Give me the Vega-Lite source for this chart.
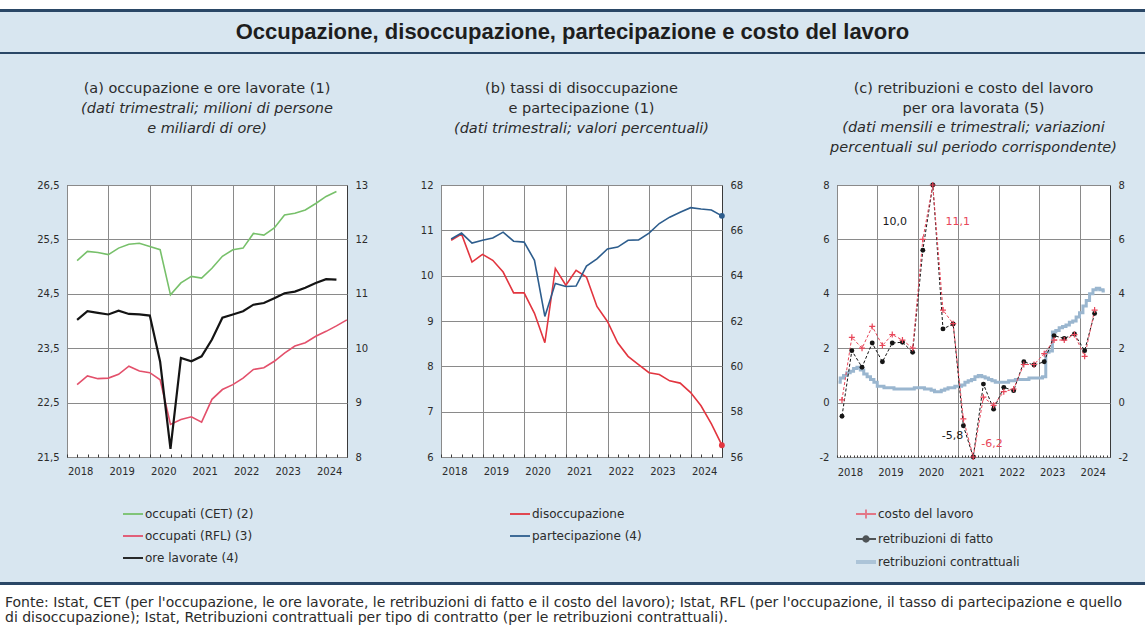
{
  "$schema": "https://vega.github.io/schema/vega-lite/v6.json",
  "background": "#d8e6f0",
  "padding": 0,
  "spacing": 0,
  "bounds": "flush",
  "config": {
    "locale": {"number": {"decimal": ",", "thousands": ".", "grouping": [3], "currency": ["€", ""], "minus": "-"}},
    "view": {"stroke": null},
    "font": "DejaVu Sans",
    "axis": {"labelFont": "DejaVu Sans", "labelFontSize": 10, "labelColor": "#2b2b2b", "domain": false, "ticks": false, "gridColor": "#8a8a8a", "gridWidth": 1},
    "legend": {"labelFont": "DejaVu Sans", "labelFontSize": 12, "labelColor": "#2b2b2b", "symbolSize": 400, "symbolStrokeWidth": 1.8, "labelOffset": 1, "rowPadding": 5},
    "title": {"font": "DejaVu Sans", "fontSize": 14.5, "fontWeight": "normal", "color": "#2b2b2b", "subtitleFont": "DejaVu Sans", "subtitleFontSize": 14.5, "subtitleFontStyle": "italic", "subtitleColor": "#2b2b2b", "lineHeight": 20, "subtitleLineHeight": 20, "subtitlePadding": 5, "offset": 24, "anchor": "middle", "frame": "group"}
  },
  "datasets": {
    "pannello_a": [
      {"periodo": "2018-03-31", "serie": "occupati (CET) (2)", "valore": 25.11},
      {"periodo": "2018-06-30", "serie": "occupati (CET) (2)", "valore": 25.28},
      {"periodo": "2018-09-30", "serie": "occupati (CET) (2)", "valore": 25.26},
      {"periodo": "2018-12-31", "serie": "occupati (CET) (2)", "valore": 25.22},
      {"periodo": "2019-03-31", "serie": "occupati (CET) (2)", "valore": 25.34},
      {"periodo": "2019-06-30", "serie": "occupati (CET) (2)", "valore": 25.41},
      {"periodo": "2019-09-30", "serie": "occupati (CET) (2)", "valore": 25.43},
      {"periodo": "2019-12-31", "serie": "occupati (CET) (2)", "valore": 25.37},
      {"periodo": "2020-03-31", "serie": "occupati (CET) (2)", "valore": 25.31},
      {"periodo": "2020-06-30", "serie": "occupati (CET) (2)", "valore": 24.48},
      {"periodo": "2020-09-30", "serie": "occupati (CET) (2)", "valore": 24.70},
      {"periodo": "2020-12-31", "serie": "occupati (CET) (2)", "valore": 24.82},
      {"periodo": "2021-03-31", "serie": "occupati (CET) (2)", "valore": 24.79},
      {"periodo": "2021-06-30", "serie": "occupati (CET) (2)", "valore": 24.97},
      {"periodo": "2021-09-30", "serie": "occupati (CET) (2)", "valore": 25.19},
      {"periodo": "2021-12-31", "serie": "occupati (CET) (2)", "valore": 25.31},
      {"periodo": "2022-03-31", "serie": "occupati (CET) (2)", "valore": 25.34},
      {"periodo": "2022-06-30", "serie": "occupati (CET) (2)", "valore": 25.61},
      {"periodo": "2022-09-30", "serie": "occupati (CET) (2)", "valore": 25.58},
      {"periodo": "2022-12-31", "serie": "occupati (CET) (2)", "valore": 25.71},
      {"periodo": "2023-03-31", "serie": "occupati (CET) (2)", "valore": 25.95},
      {"periodo": "2023-06-30", "serie": "occupati (CET) (2)", "valore": 25.98},
      {"periodo": "2023-09-30", "serie": "occupati (CET) (2)", "valore": 26.04},
      {"periodo": "2023-12-31", "serie": "occupati (CET) (2)", "valore": 26.16},
      {"periodo": "2024-03-31", "serie": "occupati (CET) (2)", "valore": 26.29},
      {"periodo": "2024-06-30", "serie": "occupati (CET) (2)", "valore": 26.38},
      {"periodo": "2018-03-31", "serie": "occupati (RFL) (3)", "valore": 22.83},
      {"periodo": "2018-06-30", "serie": "occupati (RFL) (3)", "valore": 22.99},
      {"periodo": "2018-09-30", "serie": "occupati (RFL) (3)", "valore": 22.94},
      {"periodo": "2018-12-31", "serie": "occupati (RFL) (3)", "valore": 22.95},
      {"periodo": "2019-03-31", "serie": "occupati (RFL) (3)", "valore": 23.02},
      {"periodo": "2019-06-30", "serie": "occupati (RFL) (3)", "valore": 23.17},
      {"periodo": "2019-09-30", "serie": "occupati (RFL) (3)", "valore": 23.08},
      {"periodo": "2019-12-31", "serie": "occupati (RFL) (3)", "valore": 23.05},
      {"periodo": "2020-03-31", "serie": "occupati (RFL) (3)", "valore": 22.92},
      {"periodo": "2020-06-30", "serie": "occupati (RFL) (3)", "valore": 22.10},
      {"periodo": "2020-09-30", "serie": "occupati (RFL) (3)", "valore": 22.19},
      {"periodo": "2020-12-31", "serie": "occupati (RFL) (3)", "valore": 22.24},
      {"periodo": "2021-03-31", "serie": "occupati (RFL) (3)", "valore": 22.14},
      {"periodo": "2021-06-30", "serie": "occupati (RFL) (3)", "valore": 22.56},
      {"periodo": "2021-09-30", "serie": "occupati (RFL) (3)", "valore": 22.74},
      {"periodo": "2021-12-31", "serie": "occupati (RFL) (3)", "valore": 22.83},
      {"periodo": "2022-03-31", "serie": "occupati (RFL) (3)", "valore": 22.95},
      {"periodo": "2022-06-30", "serie": "occupati (RFL) (3)", "valore": 23.11},
      {"periodo": "2022-09-30", "serie": "occupati (RFL) (3)", "valore": 23.14},
      {"periodo": "2022-12-31", "serie": "occupati (RFL) (3)", "valore": 23.26},
      {"periodo": "2023-03-31", "serie": "occupati (RFL) (3)", "valore": 23.41},
      {"periodo": "2023-06-30", "serie": "occupati (RFL) (3)", "valore": 23.54},
      {"periodo": "2023-09-30", "serie": "occupati (RFL) (3)", "valore": 23.60},
      {"periodo": "2023-12-31", "serie": "occupati (RFL) (3)", "valore": 23.72},
      {"periodo": "2024-03-31", "serie": "occupati (RFL) (3)", "valore": 23.81},
      {"periodo": "2024-06-30", "serie": "occupati (RFL) (3)", "valore": 23.91},
      {"periodo": "2024-09-30", "serie": "occupati (RFL) (3)", "valore": 24.02},
      {"periodo": "2018-03-31", "serie": "ore lavorate (4)", "valore": 10.52},
      {"periodo": "2018-06-30", "serie": "ore lavorate (4)", "valore": 10.68},
      {"periodo": "2018-09-30", "serie": "ore lavorate (4)", "valore": 10.65},
      {"periodo": "2018-12-31", "serie": "ore lavorate (4)", "valore": 10.62},
      {"periodo": "2019-03-31", "serie": "ore lavorate (4)", "valore": 10.69},
      {"periodo": "2019-06-30", "serie": "ore lavorate (4)", "valore": 10.63},
      {"periodo": "2019-09-30", "serie": "ore lavorate (4)", "valore": 10.62},
      {"periodo": "2019-12-31", "serie": "ore lavorate (4)", "valore": 10.60},
      {"periodo": "2020-03-31", "serie": "ore lavorate (4)", "valore": 9.75},
      {"periodo": "2020-06-30", "serie": "ore lavorate (4)", "valore": 8.15},
      {"periodo": "2020-09-30", "serie": "ore lavorate (4)", "valore": 9.82},
      {"periodo": "2020-12-31", "serie": "ore lavorate (4)", "valore": 9.76},
      {"periodo": "2021-03-31", "serie": "ore lavorate (4)", "valore": 9.85},
      {"periodo": "2021-06-30", "serie": "ore lavorate (4)", "valore": 10.16},
      {"periodo": "2021-09-30", "serie": "ore lavorate (4)", "valore": 10.56},
      {"periodo": "2021-12-31", "serie": "ore lavorate (4)", "valore": 10.62},
      {"periodo": "2022-03-31", "serie": "ore lavorate (4)", "valore": 10.68},
      {"periodo": "2022-06-30", "serie": "ore lavorate (4)", "valore": 10.80},
      {"periodo": "2022-09-30", "serie": "ore lavorate (4)", "valore": 10.83},
      {"periodo": "2022-12-31", "serie": "ore lavorate (4)", "valore": 10.92},
      {"periodo": "2023-03-31", "serie": "ore lavorate (4)", "valore": 11.01},
      {"periodo": "2023-06-30", "serie": "ore lavorate (4)", "valore": 11.04},
      {"periodo": "2023-09-30", "serie": "ore lavorate (4)", "valore": 11.11},
      {"periodo": "2023-12-31", "serie": "ore lavorate (4)", "valore": 11.20},
      {"periodo": "2024-03-31", "serie": "ore lavorate (4)", "valore": 11.27},
      {"periodo": "2024-06-30", "serie": "ore lavorate (4)", "valore": 11.26}
    ],
    "pannello_b": [
      {"periodo": "2018-03-31", "serie": "disoccupazione", "valore": 10.78},
      {"periodo": "2018-06-30", "serie": "disoccupazione", "valore": 10.92},
      {"periodo": "2018-09-30", "serie": "disoccupazione", "valore": 10.30},
      {"periodo": "2018-12-31", "serie": "disoccupazione", "valore": 10.47},
      {"periodo": "2019-03-31", "serie": "disoccupazione", "valore": 10.34},
      {"periodo": "2019-06-30", "serie": "disoccupazione", "valore": 10.08},
      {"periodo": "2019-09-30", "serie": "disoccupazione", "valore": 9.62},
      {"periodo": "2019-12-31", "serie": "disoccupazione", "valore": 9.62},
      {"periodo": "2020-03-31", "serie": "disoccupazione", "valore": 9.17},
      {"periodo": "2020-06-30", "serie": "disoccupazione", "valore": 8.52},
      {"periodo": "2020-09-30", "serie": "disoccupazione", "valore": 10.16},
      {"periodo": "2020-12-31", "serie": "disoccupazione", "valore": 9.79},
      {"periodo": "2021-03-31", "serie": "disoccupazione", "valore": 10.12},
      {"periodo": "2021-06-30", "serie": "disoccupazione", "valore": 9.97},
      {"periodo": "2021-09-30", "serie": "disoccupazione", "valore": 9.32},
      {"periodo": "2021-12-31", "serie": "disoccupazione", "valore": 8.99},
      {"periodo": "2022-03-31", "serie": "disoccupazione", "valore": 8.52},
      {"periodo": "2022-06-30", "serie": "disoccupazione", "valore": 8.22},
      {"periodo": "2022-09-30", "serie": "disoccupazione", "valore": 8.04},
      {"periodo": "2022-12-31", "serie": "disoccupazione", "valore": 7.86},
      {"periodo": "2023-03-31", "serie": "disoccupazione", "valore": 7.82},
      {"periodo": "2023-06-30", "serie": "disoccupazione", "valore": 7.68},
      {"periodo": "2023-09-30", "serie": "disoccupazione", "valore": 7.63},
      {"periodo": "2023-12-31", "serie": "disoccupazione", "valore": 7.42},
      {"periodo": "2024-03-31", "serie": "disoccupazione", "valore": 7.13},
      {"periodo": "2024-06-30", "serie": "disoccupazione", "valore": 6.73},
      {"periodo": "2024-09-30", "serie": "disoccupazione", "valore": 6.26},
      {"periodo": "2018-03-31", "serie": "partecipazione (4)", "valore": 65.62},
      {"periodo": "2018-06-30", "serie": "partecipazione (4)", "valore": 65.88},
      {"periodo": "2018-09-30", "serie": "partecipazione (4)", "valore": 65.44},
      {"periodo": "2018-12-31", "serie": "partecipazione (4)", "valore": 65.56},
      {"periodo": "2019-03-31", "serie": "partecipazione (4)", "valore": 65.66},
      {"periodo": "2019-06-30", "serie": "partecipazione (4)", "valore": 65.92},
      {"periodo": "2019-09-30", "serie": "partecipazione (4)", "valore": 65.52},
      {"periodo": "2019-12-31", "serie": "partecipazione (4)", "valore": 65.48},
      {"periodo": "2020-03-31", "serie": "partecipazione (4)", "valore": 64.68},
      {"periodo": "2020-06-30", "serie": "partecipazione (4)", "valore": 62.20},
      {"periodo": "2020-09-30", "serie": "partecipazione (4)", "valore": 63.66},
      {"periodo": "2020-12-31", "serie": "partecipazione (4)", "valore": 63.52},
      {"periodo": "2021-03-31", "serie": "partecipazione (4)", "valore": 63.54},
      {"periodo": "2021-06-30", "serie": "partecipazione (4)", "valore": 64.42},
      {"periodo": "2021-09-30", "serie": "partecipazione (4)", "valore": 64.74},
      {"periodo": "2021-12-31", "serie": "partecipazione (4)", "valore": 65.18},
      {"periodo": "2022-03-31", "serie": "partecipazione (4)", "valore": 65.26},
      {"periodo": "2022-06-30", "serie": "partecipazione (4)", "valore": 65.56},
      {"periodo": "2022-09-30", "serie": "partecipazione (4)", "valore": 65.58},
      {"periodo": "2022-12-31", "serie": "partecipazione (4)", "valore": 65.88},
      {"periodo": "2023-03-31", "serie": "partecipazione (4)", "valore": 66.30},
      {"periodo": "2023-06-30", "serie": "partecipazione (4)", "valore": 66.58},
      {"periodo": "2023-09-30", "serie": "partecipazione (4)", "valore": 66.80},
      {"periodo": "2023-12-31", "serie": "partecipazione (4)", "valore": 67.00},
      {"periodo": "2024-03-31", "serie": "partecipazione (4)", "valore": 66.94},
      {"periodo": "2024-06-30", "serie": "partecipazione (4)", "valore": 66.90},
      {"periodo": "2024-09-30", "serie": "partecipazione (4)", "valore": 66.64}
    ],
    "pannello_c_trimestrale": [
      {"periodo": "2018-02-15", "serie": "retribuzioni di fatto", "valore": -0.50},
      {"periodo": "2018-05-15", "serie": "retribuzioni di fatto", "valore": 1.91},
      {"periodo": "2018-08-15", "serie": "retribuzioni di fatto", "valore": 1.30},
      {"periodo": "2018-11-15", "serie": "retribuzioni di fatto", "valore": 2.19},
      {"periodo": "2019-02-15", "serie": "retribuzioni di fatto", "valore": 1.50},
      {"periodo": "2019-05-15", "serie": "retribuzioni di fatto", "valore": 2.19},
      {"periodo": "2019-08-15", "serie": "retribuzioni di fatto", "valore": 2.22},
      {"periodo": "2019-11-15", "serie": "retribuzioni di fatto", "valore": 1.85},
      {"periodo": "2020-02-15", "serie": "retribuzioni di fatto", "valore": 5.6},
      {"periodo": "2020-05-15", "serie": "retribuzioni di fatto", "valore": 10.0},
      {"periodo": "2020-08-15", "serie": "retribuzioni di fatto", "valore": 2.71},
      {"periodo": "2020-11-15", "serie": "retribuzioni di fatto", "valore": 2.89},
      {"periodo": "2021-02-15", "serie": "retribuzioni di fatto", "valore": -0.85},
      {"periodo": "2021-05-15", "serie": "retribuzioni di fatto", "valore": -5.8},
      {"periodo": "2021-08-15", "serie": "retribuzioni di fatto", "valore": 0.68},
      {"periodo": "2021-11-15", "serie": "retribuzioni di fatto", "valore": -0.24},
      {"periodo": "2022-02-15", "serie": "retribuzioni di fatto", "valore": 0.56},
      {"periodo": "2022-05-15", "serie": "retribuzioni di fatto", "valore": 0.44},
      {"periodo": "2022-08-15", "serie": "retribuzioni di fatto", "valore": 1.50},
      {"periodo": "2022-11-15", "serie": "retribuzioni di fatto", "valore": 1.38},
      {"periodo": "2023-02-15", "serie": "retribuzioni di fatto", "valore": 1.50},
      {"periodo": "2023-05-15", "serie": "retribuzioni di fatto", "valore": 2.46},
      {"periodo": "2023-08-15", "serie": "retribuzioni di fatto", "valore": 2.36},
      {"periodo": "2023-11-15", "serie": "retribuzioni di fatto", "valore": 2.52},
      {"periodo": "2024-02-15", "serie": "retribuzioni di fatto", "valore": 1.91},
      {"periodo": "2024-05-15", "serie": "retribuzioni di fatto", "valore": 3.28},
      {"periodo": "2018-02-15", "serie": "costo del lavoro", "valore": 0.1},
      {"periodo": "2018-05-15", "serie": "costo del lavoro", "valore": 2.4},
      {"periodo": "2018-08-15", "serie": "costo del lavoro", "valore": 2.0},
      {"periodo": "2018-11-15", "serie": "costo del lavoro", "valore": 2.8},
      {"periodo": "2019-02-15", "serie": "costo del lavoro", "valore": 2.1},
      {"periodo": "2019-05-15", "serie": "costo del lavoro", "valore": 2.5},
      {"periodo": "2019-08-15", "serie": "costo del lavoro", "valore": 2.3},
      {"periodo": "2019-11-15", "serie": "costo del lavoro", "valore": 2.0},
      {"periodo": "2020-02-15", "serie": "costo del lavoro", "valore": 6.0},
      {"periodo": "2020-05-15", "serie": "costo del lavoro", "valore": 11.1},
      {"periodo": "2020-08-15", "serie": "costo del lavoro", "valore": 3.4},
      {"periodo": "2020-11-15", "serie": "costo del lavoro", "valore": 2.9},
      {"periodo": "2021-02-15", "serie": "costo del lavoro", "valore": -0.6},
      {"periodo": "2021-05-15", "serie": "costo del lavoro", "valore": -6.2},
      {"periodo": "2021-08-15", "serie": "costo del lavoro", "valore": 0.2},
      {"periodo": "2021-11-15", "serie": "costo del lavoro", "valore": -0.1},
      {"periodo": "2022-02-15", "serie": "costo del lavoro", "valore": 0.4},
      {"periodo": "2022-05-15", "serie": "costo del lavoro", "valore": 0.5},
      {"periodo": "2022-08-15", "serie": "costo del lavoro", "valore": 1.4},
      {"periodo": "2022-11-15", "serie": "costo del lavoro", "valore": 1.4},
      {"periodo": "2023-02-15", "serie": "costo del lavoro", "valore": 1.8},
      {"periodo": "2023-05-15", "serie": "costo del lavoro", "valore": 2.3},
      {"periodo": "2023-08-15", "serie": "costo del lavoro", "valore": 2.3},
      {"periodo": "2023-11-15", "serie": "costo del lavoro", "valore": 2.5},
      {"periodo": "2024-02-15", "serie": "costo del lavoro", "valore": 1.7},
      {"periodo": "2024-05-15", "serie": "costo del lavoro", "valore": 3.4}
    ],
    "pannello_c_mensile": [
      {"periodo": "2018-01-15", "serie": "retribuzioni contrattuali", "valore": 0.75},
      {"periodo": "2018-02-15", "serie": "retribuzioni contrattuali", "valore": 0.9},
      {"periodo": "2018-03-15", "serie": "retribuzioni contrattuali", "valore": 1.0},
      {"periodo": "2018-04-15", "serie": "retribuzioni contrattuali", "valore": 1.1},
      {"periodo": "2018-05-15", "serie": "retribuzioni contrattuali", "valore": 1.15},
      {"periodo": "2018-06-15", "serie": "retribuzioni contrattuali", "valore": 1.25},
      {"periodo": "2018-07-15", "serie": "retribuzioni contrattuali", "valore": 1.3},
      {"periodo": "2018-08-15", "serie": "retribuzioni contrattuali", "valore": 1.2},
      {"periodo": "2018-09-15", "serie": "retribuzioni contrattuali", "valore": 1.05},
      {"periodo": "2018-10-15", "serie": "retribuzioni contrattuali", "valore": 0.95},
      {"periodo": "2018-11-15", "serie": "retribuzioni contrattuali", "valore": 0.85},
      {"periodo": "2018-12-15", "serie": "retribuzioni contrattuali", "valore": 0.75},
      {"periodo": "2019-01-15", "serie": "retribuzioni contrattuali", "valore": 0.6},
      {"periodo": "2019-02-15", "serie": "retribuzioni contrattuali", "valore": 0.6},
      {"periodo": "2019-03-15", "serie": "retribuzioni contrattuali", "valore": 0.55},
      {"periodo": "2019-04-15", "serie": "retribuzioni contrattuali", "valore": 0.55},
      {"periodo": "2019-05-15", "serie": "retribuzioni contrattuali", "valore": 0.55},
      {"periodo": "2019-06-15", "serie": "retribuzioni contrattuali", "valore": 0.5},
      {"periodo": "2019-07-15", "serie": "retribuzioni contrattuali", "valore": 0.5},
      {"periodo": "2019-08-15", "serie": "retribuzioni contrattuali", "valore": 0.5},
      {"periodo": "2019-09-15", "serie": "retribuzioni contrattuali", "valore": 0.5},
      {"periodo": "2019-10-15", "serie": "retribuzioni contrattuali", "valore": 0.5},
      {"periodo": "2019-11-15", "serie": "retribuzioni contrattuali", "valore": 0.5},
      {"periodo": "2019-12-15", "serie": "retribuzioni contrattuali", "valore": 0.55},
      {"periodo": "2020-01-15", "serie": "retribuzioni contrattuali", "valore": 0.55},
      {"periodo": "2020-02-15", "serie": "retribuzioni contrattuali", "valore": 0.55},
      {"periodo": "2020-03-15", "serie": "retribuzioni contrattuali", "valore": 0.5},
      {"periodo": "2020-04-15", "serie": "retribuzioni contrattuali", "valore": 0.5},
      {"periodo": "2020-05-15", "serie": "retribuzioni contrattuali", "valore": 0.45},
      {"periodo": "2020-06-15", "serie": "retribuzioni contrattuali", "valore": 0.4},
      {"periodo": "2020-07-15", "serie": "retribuzioni contrattuali", "valore": 0.4},
      {"periodo": "2020-08-15", "serie": "retribuzioni contrattuali", "valore": 0.45},
      {"periodo": "2020-09-15", "serie": "retribuzioni contrattuali", "valore": 0.5},
      {"periodo": "2020-10-15", "serie": "retribuzioni contrattuali", "valore": 0.55},
      {"periodo": "2020-11-15", "serie": "retribuzioni contrattuali", "valore": 0.55},
      {"periodo": "2020-12-15", "serie": "retribuzioni contrattuali", "valore": 0.6},
      {"periodo": "2021-01-15", "serie": "retribuzioni contrattuali", "valore": 0.6},
      {"periodo": "2021-02-15", "serie": "retribuzioni contrattuali", "valore": 0.65},
      {"periodo": "2021-03-15", "serie": "retribuzioni contrattuali", "valore": 0.75},
      {"periodo": "2021-04-15", "serie": "retribuzioni contrattuali", "valore": 0.8},
      {"periodo": "2021-05-15", "serie": "retribuzioni contrattuali", "valore": 0.85},
      {"periodo": "2021-06-15", "serie": "retribuzioni contrattuali", "valore": 0.95},
      {"periodo": "2021-07-15", "serie": "retribuzioni contrattuali", "valore": 1.0},
      {"periodo": "2021-08-15", "serie": "retribuzioni contrattuali", "valore": 0.95},
      {"periodo": "2021-09-15", "serie": "retribuzioni contrattuali", "valore": 0.9},
      {"periodo": "2021-10-15", "serie": "retribuzioni contrattuali", "valore": 0.85},
      {"periodo": "2021-11-15", "serie": "retribuzioni contrattuali", "valore": 0.8},
      {"periodo": "2021-12-15", "serie": "retribuzioni contrattuali", "valore": 0.75},
      {"periodo": "2022-01-15", "serie": "retribuzioni contrattuali", "valore": 0.75},
      {"periodo": "2022-02-15", "serie": "retribuzioni contrattuali", "valore": 0.75},
      {"periodo": "2022-03-15", "serie": "retribuzioni contrattuali", "valore": 0.75},
      {"periodo": "2022-04-15", "serie": "retribuzioni contrattuali", "valore": 0.8},
      {"periodo": "2022-05-15", "serie": "retribuzioni contrattuali", "valore": 0.8},
      {"periodo": "2022-06-15", "serie": "retribuzioni contrattuali", "valore": 0.85},
      {"periodo": "2022-07-15", "serie": "retribuzioni contrattuali", "valore": 0.85},
      {"periodo": "2022-08-15", "serie": "retribuzioni contrattuali", "valore": 0.85},
      {"periodo": "2022-09-15", "serie": "retribuzioni contrattuali", "valore": 0.85},
      {"periodo": "2022-10-15", "serie": "retribuzioni contrattuali", "valore": 0.9},
      {"periodo": "2022-11-15", "serie": "retribuzioni contrattuali", "valore": 0.9},
      {"periodo": "2022-12-15", "serie": "retribuzioni contrattuali", "valore": 0.9},
      {"periodo": "2023-01-15", "serie": "retribuzioni contrattuali", "valore": 0.9},
      {"periodo": "2023-02-15", "serie": "retribuzioni contrattuali", "valore": 0.95},
      {"periodo": "2023-03-15", "serie": "retribuzioni contrattuali", "valore": 1.85},
      {"periodo": "2023-04-15", "serie": "retribuzioni contrattuali", "valore": 1.9},
      {"periodo": "2023-05-15", "serie": "retribuzioni contrattuali", "valore": 2.6},
      {"periodo": "2023-06-15", "serie": "retribuzioni contrattuali", "valore": 2.65},
      {"periodo": "2023-07-15", "serie": "retribuzioni contrattuali", "valore": 2.75},
      {"periodo": "2023-08-15", "serie": "retribuzioni contrattuali", "valore": 2.8},
      {"periodo": "2023-09-15", "serie": "retribuzioni contrattuali", "valore": 2.85},
      {"periodo": "2023-10-15", "serie": "retribuzioni contrattuali", "valore": 2.95},
      {"periodo": "2023-11-15", "serie": "retribuzioni contrattuali", "valore": 3.0},
      {"periodo": "2023-12-15", "serie": "retribuzioni contrattuali", "valore": 3.15},
      {"periodo": "2024-01-15", "serie": "retribuzioni contrattuali", "valore": 3.3},
      {"periodo": "2024-02-15", "serie": "retribuzioni contrattuali", "valore": 3.55},
      {"periodo": "2024-03-15", "serie": "retribuzioni contrattuali", "valore": 3.75},
      {"periodo": "2024-04-15", "serie": "retribuzioni contrattuali", "valore": 4.0},
      {"periodo": "2024-05-15", "serie": "retribuzioni contrattuali", "valore": 4.15},
      {"periodo": "2024-06-15", "serie": "retribuzioni contrattuali", "valore": 4.2},
      {"periodo": "2024-07-15", "serie": "retribuzioni contrattuali", "valore": 4.15},
      {"periodo": "2024-08-15", "serie": "retribuzioni contrattuali", "valore": 4.1}
    ]
  },
  "resolve": {"scale": {"color": "independent", "shape": "independent"}, "legend": {"color": "independent", "shape": "independent"}},
  "vconcat": [
    {"width": 1145, "height": 9, "view": {"fill": "#ffffff", "stroke": null}, "data": {"values": []}, "mark": "point"},
    {"width": 1145, "height": 3, "view": {"fill": "#2a4766", "stroke": null}, "data": {"values": []}, "mark": "point"},
    {
      "width": 1145, "height": 40,
      "data": {"values": [{"titolo": "Occupazione, disoccupazione, partecipazione e costo del lavoro"}]},
      "mark": {"type": "text", "font": "Liberation Sans", "fontSize": 22, "fontWeight": "bold", "color": "#1e1e1e", "baseline": "middle"},
      "encoding": {"text": {"field": "titolo", "type": "nominal"}}
    },
    {"width": 1145, "height": 2, "view": {"fill": "#2a4766", "stroke": null}, "data": {"values": []}, "mark": "point"},
    {"width": 1145, "height": 131, "data": {"values": []}, "mark": "point"},
    {
      "hconcat": [
        {"width": 67, "height": 272, "data": {"values": []}, "mark": "point"},
        {
          "width": 280, "height": 272,
          "view": {"fill": "#ffffff", "stroke": "#3a3a3a", "strokeWidth": 1},
          "title": {"text": "(a) occupazione e ore lavorate (1)", "subtitle": ["(dati trimestrali; milioni di persone", "e miliardi di ore)", ""]},
          "data": {"name": "pannello_a"},
          "encoding": {
            "x": {
              "field": "periodo", "type": "temporal",
              "scale": {"type": "utc", "nice": false, "domain": [{"year": 2018, "month": 1, "date": 1, "utc": true}, {"year": 2024, "month": 10, "date": 1, "utc": true}]},
              "axis": {"title": null, "tickCount": {"interval": "month", "step": 3}, "labelExpr": "utcmonth(datum.value) === 3 ? utcFormat(datum.value, '%Y') : ''", "labelOverlap": false, "labelFlush": false, "labelBound": false, "labelPadding": 12, "labelOffset": 3, "grid": true, "gridOpacity": {"condition": {"test": "utcmonth(datum.value) === 0", "value": 1}, "value": 0}, "ticks": true, "tickSize": -3, "tickColor": "#3a3a3a", "domain": false}
            }
          },
          "layer": [
            {
              "transform": [{"filter": "datum.serie !== 'ore lavorate (4)'"}],
              "mark": {"type": "line", "strokeWidth": 1.6},
              "encoding": {
                "y": {"field": "valore", "type": "quantitative", "scale": {"domain": [21.5, 26.5], "nice": false, "zero": false}, "axis": {"title": null, "orient": "left", "values": [21.5, 22.5, 23.5, 24.5, 25.5, 26.5], "format": ".1f", "grid": true, "labelPadding": 8}},
                "color": {"field": "serie", "type": "nominal", "scale": {"domain": ["occupati (CET) (2)", "occupati (RFL) (3)", "ore lavorate (4)"], "range": ["#77c06a", "#e3506b", "#141414"]}, "legend": {"title": null, "orient": "none", "legendX": 55, "legendY": 318, "direction": "vertical", "symbolType": "stroke"}}
              }
            },
            {
              "transform": [{"filter": "datum.serie === 'ore lavorate (4)'"}],
              "mark": {"type": "line", "strokeWidth": 2.2},
              "encoding": {
                "y": {"field": "valore", "type": "quantitative", "scale": {"domain": [8, 13], "nice": false, "zero": false}, "axis": {"title": null, "orient": "right", "values": [8, 9, 10, 11, 12, 13], "format": "d", "grid": false, "labelPadding": 8}},
                "color": {"field": "serie", "type": "nominal"}
              }
            }
          ],
          "resolve": {"scale": {"y": "independent"}}
        },
        {"width": 94, "height": 272, "data": {"values": []}, "mark": "point"},
        {
          "width": 281, "height": 272,
          "view": {"fill": "#ffffff", "stroke": "#3a3a3a", "strokeWidth": 1},
          "title": {"text": ["(b) tassi di disoccupazione", "e partecipazione (1)"], "subtitle": ["(dati trimestrali; valori percentuali)", ""]},
          "data": {"name": "pannello_b"},
          "encoding": {
            "x": {
              "field": "periodo", "type": "temporal",
              "scale": {"type": "utc", "nice": false, "domain": [{"year": 2018, "month": 1, "date": 1, "utc": true}, {"year": 2024, "month": 10, "date": 1, "utc": true}]},
              "axis": {"title": null, "tickCount": {"interval": "month", "step": 3}, "labelExpr": "utcmonth(datum.value) === 3 ? utcFormat(datum.value, '%Y') : ''", "labelOverlap": false, "labelFlush": false, "labelBound": false, "labelPadding": 12, "labelOffset": 3, "grid": true, "gridOpacity": {"condition": {"test": "utcmonth(datum.value) === 0", "value": 1}, "value": 0}, "ticks": true, "tickSize": -3, "tickColor": "#3a3a3a", "domain": false}
            },
            "color": {"field": "serie", "type": "nominal", "scale": {"domain": ["disoccupazione", "partecipazione (4)"], "range": ["#e2353f", "#2d5d8d"]}, "legend": {"title": null, "orient": "none", "legendX": 68, "legendY": 318, "direction": "vertical", "symbolType": "stroke"}}
          },
          "layer": [
            {
              "transform": [{"filter": "datum.serie === 'disoccupazione'"}],
              "encoding": {
                "y": {"field": "valore", "type": "quantitative", "scale": {"domain": [6, 12], "nice": false, "zero": false}, "axis": {"title": null, "orient": "left", "values": [6, 7, 8, 9, 10, 11, 12], "format": "d", "grid": true, "labelPadding": 8}}
              },
              "layer": [
                {"mark": {"type": "line", "strokeWidth": 1.6}},
                {"transform": [{"filter": "utcyear(datum.periodo) === 2024 && utcmonth(datum.periodo) === 8"}], "mark": {"type": "point", "filled": true, "size": 34, "opacity": 1}}
              ]
            },
            {
              "transform": [{"filter": "datum.serie === 'partecipazione (4)'"}],
              "encoding": {
                "y": {"field": "valore", "type": "quantitative", "scale": {"domain": [56, 68], "nice": false, "zero": false}, "axis": {"title": null, "orient": "right", "values": [56, 58, 60, 62, 64, 66, 68], "format": "d", "grid": false, "labelPadding": 8}}
              },
              "layer": [
                {"mark": {"type": "line", "strokeWidth": 1.6}},
                {"transform": [{"filter": "utcyear(datum.periodo) === 2024 && utcmonth(datum.periodo) === 8"}], "mark": {"type": "point", "filled": true, "size": 34, "opacity": 1}}
              ]
            }
          ],
          "resolve": {"scale": {"y": "independent"}}
        },
        {"width": 115, "height": 272, "data": {"values": []}, "mark": "point"},
        {
          "width": 273, "height": 272,
          "view": {"fill": "#ffffff", "stroke": "#3a3a3a", "strokeWidth": 1},
          "title": {"text": ["(c) retribuzioni e costo del lavoro", "per ora lavorata (5)"], "subtitle": ["(dati mensili e trimestrali; variazioni", "percentuali sul periodo corrispondente)"]},
          "encoding": {
            "x": {
              "field": "periodo", "type": "temporal",
              "scale": {"type": "utc", "nice": false, "domain": [{"year": 2018, "month": 1, "date": 1, "utc": true}, {"year": 2024, "month": 10, "date": 1, "utc": true}]},
              "axis": {"title": null, "tickCount": {"interval": "month", "step": 1}, "labelExpr": "utcmonth(datum.value) === 3 ? utcFormat(datum.value, '%Y') : ''", "labelOverlap": false, "labelFlush": false, "labelBound": false, "labelPadding": 12, "labelOffset": 3, "grid": true, "gridOpacity": {"condition": {"test": "utcmonth(datum.value) === 0", "value": 1}, "value": 0}, "ticks": true, "tickSize": -2, "tickColor": "#3a3a3a", "domain": false}
            }
          },
          "layer": [
            {
              "data": {"name": "pannello_c_mensile"},
              "mark": {"type": "line", "interpolate": "step", "strokeWidth": 3},
              "encoding": {
                "y": {"field": "valore", "type": "quantitative", "scale": {"domain": [-2, 8], "nice": false, "zero": false}, "axis": {"title": null, "orient": "right", "values": [-2, 0, 2, 4, 6, 8], "format": "d", "grid": false, "labelPadding": 8}},
                "color": {"field": "serie", "type": "nominal", "scale": {"domain": ["costo del lavoro", "retribuzioni di fatto", "retribuzioni contrattuali"], "range": ["#e8475a", "#151515", "#9ab6cf"]}}
              }
            },
            {
              "data": {"name": "pannello_c_trimestrale"},
              "encoding": {
                "y": {"field": "valore", "type": "quantitative", "scale": {"domain": [-2, 8], "clamp": true, "nice": false, "zero": false}, "axis": {"title": null, "orient": "left", "values": [-2, 0, 2, 4, 6, 8], "format": "d", "grid": true, "labelPadding": 8}}
              },
              "layer": [
                {
                  "data": {"values": []},
                  "mark": {"type": "point", "filled": false, "strokeWidth": 1.5},
                  "encoding": {
                    "color": {"field": "serie", "type": "nominal", "scale": {"domain": ["costo del lavoro", "retribuzioni di fatto", "retribuzioni contrattuali"], "range": ["#e8475a", "#151515", "#9ab6cf"]}, "legend": {"title": null, "orient": "none", "legendX": 18, "legendY": 318, "direction": "vertical"}},
                    "shape": {"field": "serie", "type": "nominal", "scale": {"domain": ["costo del lavoro", "retribuzioni di fatto", "retribuzioni contrattuali"], "range": ["M-1,0H1M0,-0.45V0.45", "M-1,0H1M-0.28,0A0.28,0.28,0,1,0,0.28,0A0.28,0.28,0,1,0,-0.28,0M-0.12,0A0.12,0.12,0,1,0,0.12,0A0.12,0.12,0,1,0,-0.12,0", "M-1,-0.1H1M-1,0.1H1M-1,0H1"]}, "legend": {"title": null, "orient": "none", "legendX": 18, "legendY": 318, "direction": "vertical"}}
                  }
                },
                {
                  "mark": {"type": "line", "strokeWidth": 1, "strokeDash": [3, 2]},
                  "encoding": {"color": {"field": "serie", "type": "nominal"}}
                },
                {
                  "transform": [{"filter": "datum.serie === 'retribuzioni di fatto'"}],
                  "mark": {"type": "point", "filled": true, "size": 24, "opacity": 1},
                  "encoding": {"color": {"field": "serie", "type": "nominal"}}
                },
                {
                  "transform": [{"filter": "datum.serie === 'costo del lavoro'"}],
                  "mark": {"type": "point", "shape": "M-1,0H1M0,-1V1", "filled": false, "size": 36, "strokeWidth": 1.2, "opacity": 1},
                  "encoding": {"color": {"field": "serie", "type": "nominal"}}
                },
                {
                  "transform": [{"filter": "datum.serie === 'retribuzioni di fatto' && datum.valore > 8"}],
                  "mark": {"type": "text", "dx": -38, "dy": 37, "fontSize": 11, "color": "#1a1a1a"},
                  "encoding": {"text": {"field": "valore", "type": "quantitative", "format": ".1f"}}
                },
                {
                  "transform": [{"filter": "datum.serie === 'costo del lavoro' && datum.valore > 8"}],
                  "mark": {"type": "text", "dx": 25, "dy": 37, "fontSize": 11, "color": "#e8475a"},
                  "encoding": {"text": {"field": "valore", "type": "quantitative", "format": ".1f"}}
                },
                {
                  "transform": [{"filter": "datum.serie === 'retribuzioni di fatto' && datum.valore < -2"}],
                  "mark": {"type": "text", "align": "right", "dx": -10, "dy": -21, "fontSize": 11, "color": "#1a1a1a"},
                  "encoding": {"text": {"field": "valore", "type": "quantitative", "format": ".1f"}}
                },
                {
                  "transform": [{"filter": "datum.serie === 'costo del lavoro' && datum.valore < -2"}],
                  "mark": {"type": "text", "align": "left", "dx": 8, "dy": -13, "fontSize": 11, "color": "#e8475a"},
                  "encoding": {"text": {"field": "valore", "type": "quantitative", "format": ".1f"}}
                }
              ]
            }
          ],
          "resolve": {"scale": {"y": "independent"}}
        }
      ],
      "spacing": 0,
      "bounds": "flush",
      "resolve": {"scale": {"color": "independent", "shape": "independent"}, "legend": {"color": "independent", "shape": "independent"}}
    },
    {"width": 1145, "height": 397, "data": {"values": []}, "mark": "point"},
    {"width": 1145, "height": 3, "view": {"fill": "#2a4766", "stroke": null}, "data": {"values": []}, "mark": "point"},
    {
      "width": 1145, "height": 50,
      "view": {"fill": "#ffffff", "stroke": null},
      "data": {"values": [{"inizio": 0, "nota": "Fonte: Istat, CET (per l'occupazione, le ore lavorate, le retribuzioni di fatto e il costo del lavoro); Istat, RFL (per l'occupazione, il tasso di partecipazione e quello\ndi disoccupazione); Istat, Retribuzioni contrattuali per tipo di contratto (per le retribuzioni contrattuali)."}]},
      "mark": {"type": "text", "align": "left", "baseline": "top", "dx": 5, "dy": -14, "lineBreak": "\n", "fontSize": 14, "lineHeight": 14.5, "color": "#2b2b2b"},
      "encoding": {
        "x": {"field": "inizio", "type": "quantitative", "scale": {"domain": [0, 1]}, "axis": null},
        "text": {"field": "nota", "type": "nominal"}
      }
    }
  ]
}
